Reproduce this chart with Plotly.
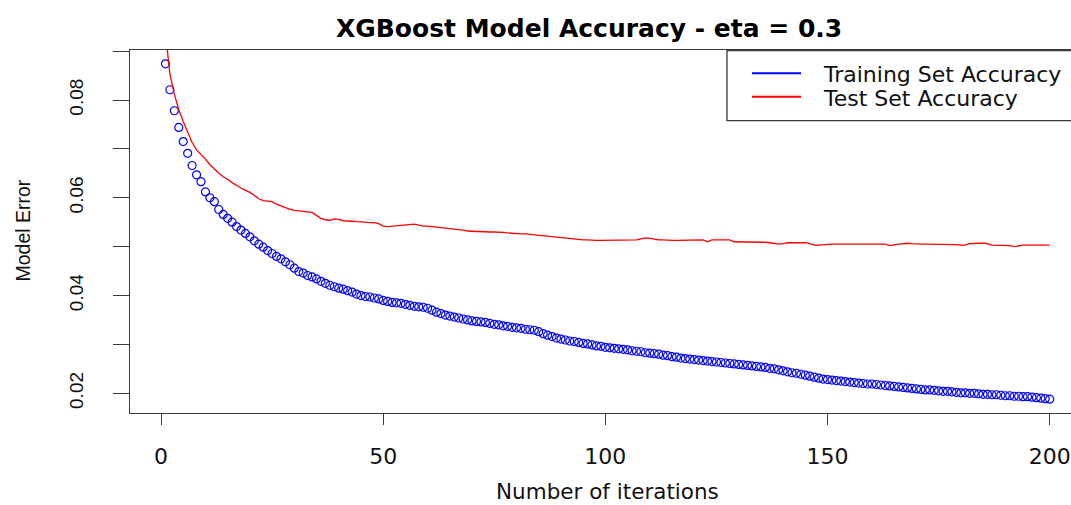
import plotly.graph_objects as go

# Boosting iterations
iterations = list(range(1, 201))

# Training set error per iteration
train_error = [
    0.0874, 0.0821, 0.0778, 0.0744, 0.0715, 0.0691, 0.0666, 0.0647, 0.0633, 0.0612,
    0.0600, 0.0592, 0.0576, 0.0566, 0.0558, 0.0550, 0.0541, 0.0534, 0.0527, 0.0520,
    0.0512, 0.0505, 0.0499, 0.0492, 0.0486, 0.0480, 0.0475, 0.0469, 0.0463, 0.0456,
    0.0449, 0.0446, 0.0441, 0.0438, 0.0434, 0.0429, 0.0425, 0.0421, 0.0418, 0.0415,
    0.0413, 0.0410, 0.0407, 0.0403, 0.0400, 0.0398, 0.0397, 0.0395, 0.0393, 0.0390,
    0.0388, 0.0386, 0.0385, 0.0384, 0.0382, 0.0380, 0.0378, 0.0377, 0.0376, 0.0374,
    0.0370, 0.0366, 0.0363, 0.0360, 0.0358, 0.0356, 0.0354, 0.0352, 0.0350, 0.0348,
    0.0347, 0.0346, 0.0345, 0.0343, 0.0341, 0.0340, 0.0338, 0.0337, 0.0335, 0.0334,
    0.0333, 0.0331, 0.0330, 0.0329, 0.0326, 0.0322, 0.0319, 0.0316, 0.0313, 0.0311,
    0.0309, 0.0307, 0.0306, 0.0304, 0.0302, 0.0301, 0.0299, 0.0297, 0.0296, 0.0294,
    0.0293, 0.0292, 0.0291, 0.0290, 0.0289, 0.0287, 0.0286, 0.0285, 0.0283, 0.0282,
    0.0281, 0.0280, 0.0278, 0.0277, 0.0275, 0.0274, 0.0272, 0.0271, 0.0270, 0.0269,
    0.0268, 0.0267, 0.0266, 0.0265, 0.0264, 0.0263, 0.0262, 0.0261, 0.0260, 0.0259,
    0.0258, 0.0257, 0.0256, 0.0255, 0.0254, 0.0253, 0.0251, 0.0250, 0.0248, 0.0246,
    0.0244, 0.0242, 0.0241, 0.0239, 0.0237, 0.0235, 0.0233, 0.0231, 0.0229, 0.0228,
    0.0227, 0.0226, 0.0225, 0.0224, 0.0223, 0.0222, 0.0221, 0.0220, 0.0219, 0.0219,
    0.0218, 0.0217, 0.0216, 0.0215, 0.0214, 0.0213, 0.0212, 0.0211, 0.0210, 0.0209,
    0.0208, 0.0207, 0.0207, 0.0206, 0.0205, 0.0204, 0.0204, 0.0203, 0.0202, 0.0201,
    0.0201, 0.0200, 0.0200, 0.0199, 0.0198, 0.0198, 0.0197, 0.0197, 0.0196, 0.0195,
    0.0195, 0.0194, 0.0194, 0.0193, 0.0193, 0.0192, 0.0191, 0.0190, 0.0189, 0.0188,
]

# Test set error per iteration
test_error = [
    0.0939, 0.0853, 0.0812, 0.0780, 0.0756, 0.0733, 0.0713, 0.0698, 0.0689, 0.0679,
    0.0668, 0.0658, 0.0650, 0.0643, 0.0638, 0.0631, 0.0625, 0.0620, 0.0615, 0.0611,
    0.0605, 0.0598, 0.0594, 0.0593, 0.0592, 0.0587, 0.0583, 0.0580, 0.0577, 0.0574,
    0.0573, 0.0572, 0.0572, 0.0570, 0.0564, 0.0558, 0.0555, 0.0554, 0.0557, 0.0556,
    0.0553, 0.0553, 0.0552, 0.0551, 0.0551, 0.0550, 0.0549, 0.0549, 0.0547, 0.0542,
    0.0541, 0.0542, 0.0543, 0.0544, 0.0544, 0.0545, 0.0546, 0.0544, 0.0542, 0.0542,
    0.0541, 0.0540, 0.0540, 0.0539, 0.0538, 0.0537, 0.0535, 0.0534, 0.0532, 0.0531,
    0.0531, 0.0531, 0.0530, 0.0530, 0.0530, 0.0530, 0.0529, 0.0528, 0.0527, 0.0527,
    0.0526, 0.0526, 0.0525, 0.0524, 0.0523, 0.0522, 0.0521, 0.0520, 0.0519, 0.0519,
    0.0518, 0.0517, 0.0516, 0.0515, 0.0514, 0.0514, 0.0513, 0.0513, 0.0513, 0.0513,
    0.0513, 0.0513, 0.0513, 0.0513, 0.0513, 0.0513, 0.0514, 0.0516, 0.0518, 0.0517,
    0.0515, 0.0514, 0.0514, 0.0513, 0.0513, 0.0513, 0.0513, 0.0514, 0.0514, 0.0514,
    0.0514, 0.0514, 0.0510, 0.0514, 0.0514, 0.0514, 0.0514, 0.0514, 0.0510, 0.0510,
    0.0510, 0.0510, 0.0510, 0.0510, 0.0510, 0.0509, 0.0508, 0.0507, 0.0505, 0.0506,
    0.0508, 0.0508, 0.0508, 0.0508, 0.0508, 0.0506, 0.0503, 0.0503, 0.0504, 0.0505,
    0.0505, 0.0505, 0.0505, 0.0505, 0.0505, 0.0505, 0.0505, 0.0505, 0.0505, 0.0505,
    0.0505, 0.0505, 0.0505, 0.0502, 0.0504, 0.0505, 0.0506, 0.0507, 0.0506, 0.0505,
    0.0505, 0.0505, 0.0505, 0.0505, 0.0505, 0.0505, 0.0505, 0.0505, 0.0504, 0.0503,
    0.0503, 0.0506, 0.0507, 0.0507, 0.0507, 0.0506, 0.0503, 0.0503, 0.0503, 0.0503,
    0.0502, 0.0500, 0.0502, 0.0503, 0.0503, 0.0503, 0.0503, 0.0503, 0.0503, 0.0503,
]

x_ticks = [0, 50, 100, 150, 200]
y_ticks = [0.02, 0.03, 0.04, 0.05, 0.06, 0.07, 0.08, 0.09]
y_tick_labels = ["0.02", "", "0.04", "", "0.06", "", "0.08", ""]

legend_labels = ["Training Set Accuracy", "Test Set Accuracy"]
legend_colors = ["#0000FF", "#FF0000"]

W, H = 1071, 505
ML, MR, MT, MB = 130, 0, 50, 92
PW, PH = W - ML - MR, H - MT - MB
AXIS_COLOR = "#3a3a3a"
SANS = "DejaVu Sans"
NARROW = "Liberation Sans, Arial"


def px(xpix):
    return (xpix - ML) / PW


def py(ypix):
    return (H - MB - ypix) / PH


fig = go.Figure()

fig.add_trace(go.Scatter(
    x=iterations, y=train_error, mode="markers", name=legend_labels[0],
    marker=dict(symbol="circle-open", size=8, color=legend_colors[0],
                line=dict(width=1.2, color=legend_colors[0])),
    showlegend=False,
))
fig.add_trace(go.Scatter(
    x=iterations, y=test_error, mode="lines", name=legend_labels[1],
    line=dict(color=legend_colors[1], width=1.3),
    showlegend=False,
))

shapes = [
    # legend frame
    dict(type="rect", xref="paper", yref="paper",
         x0=px(727), x1=px(1090), y0=py(120.7), y1=py(50.7),
         line=dict(color=AXIS_COLOR, width=1.3), fillcolor="white", layer="above"),
]
annotations = []
for i, (lab, col) in enumerate(zip(legend_labels, legend_colors)):
    yl = 73.3 + i * 23.4
    shapes.append(dict(type="line", xref="paper", yref="paper",
                       x0=px(752), x1=px(801), y0=py(yl), y1=py(yl),
                       line=dict(color=col, width=2), layer="above"))
    annotations.append(dict(text=lab, xref="paper", yref="paper",
                            x=px(821), y=py(yl + 1.5), xanchor="left", yanchor="middle",
                            showarrow=False, font=dict(family=SANS, size=22, color="#111")))

annotations += [
    dict(text="<b>XGBoost Model Accuracy - eta = 0.3</b>", xref="paper", yref="paper",
         x=px(588.5), y=py(28), xanchor="center", yanchor="middle", showarrow=False,
         font=dict(family=SANS, size=25, color="#000")),
    dict(text="Number of iterations", xref="paper", yref="paper",
         x=px(607), y=py(491), xanchor="center", yanchor="middle", showarrow=False,
         font=dict(family=SANS, size=21.5, color="#111")),
    dict(text="Model Error", xref="paper", yref="paper", textangle=-90,
         x=px(22.5), y=py(231), xanchor="center", yanchor="middle", showarrow=False,
         font=dict(family=NARROW, size=19.5, color="#111")),
]

fig.update_layout(
    width=W, height=H,
    margin=dict(l=ML, r=MR, t=MT, b=MB, pad=0),
    paper_bgcolor="white", plot_bgcolor="white",
    showlegend=False,
    shapes=shapes, annotations=annotations,
    xaxis=dict(
        range=[(ML - 161) / 4.4435, (W - 161) / 4.4435],
        tickvals=x_ticks, ticktext=[str(v) for v in x_ticks],
        showgrid=False, zeroline=False,
        showline=True, mirror=True, linecolor=AXIS_COLOR, linewidth=1.3,
        ticks="outside", ticklen=11, tickwidth=1.3, tickcolor=AXIS_COLOR,
        tickfont=dict(family=SANS, size=22, color="#111"),
        ticklabelstandoff=12,
    ),
    yaxis=dict(
        range=[0.02 - (413 - 393.3) / 4888, 0.08 + (100 - 50) / 4888],
        tickvals=y_ticks, ticktext=y_tick_labels, tickangle=-90,
        showgrid=False, zeroline=False,
        showline=True, mirror=False, linecolor=AXIS_COLOR, linewidth=1.3,
        ticks="outside", ticklen=16, tickwidth=1.3, tickcolor=AXIS_COLOR,
        tickfont=dict(family=NARROW, size=19, color="#111"),
        ticklabelstandoff=22,
    ),
)

fig.write_html("out.html")
